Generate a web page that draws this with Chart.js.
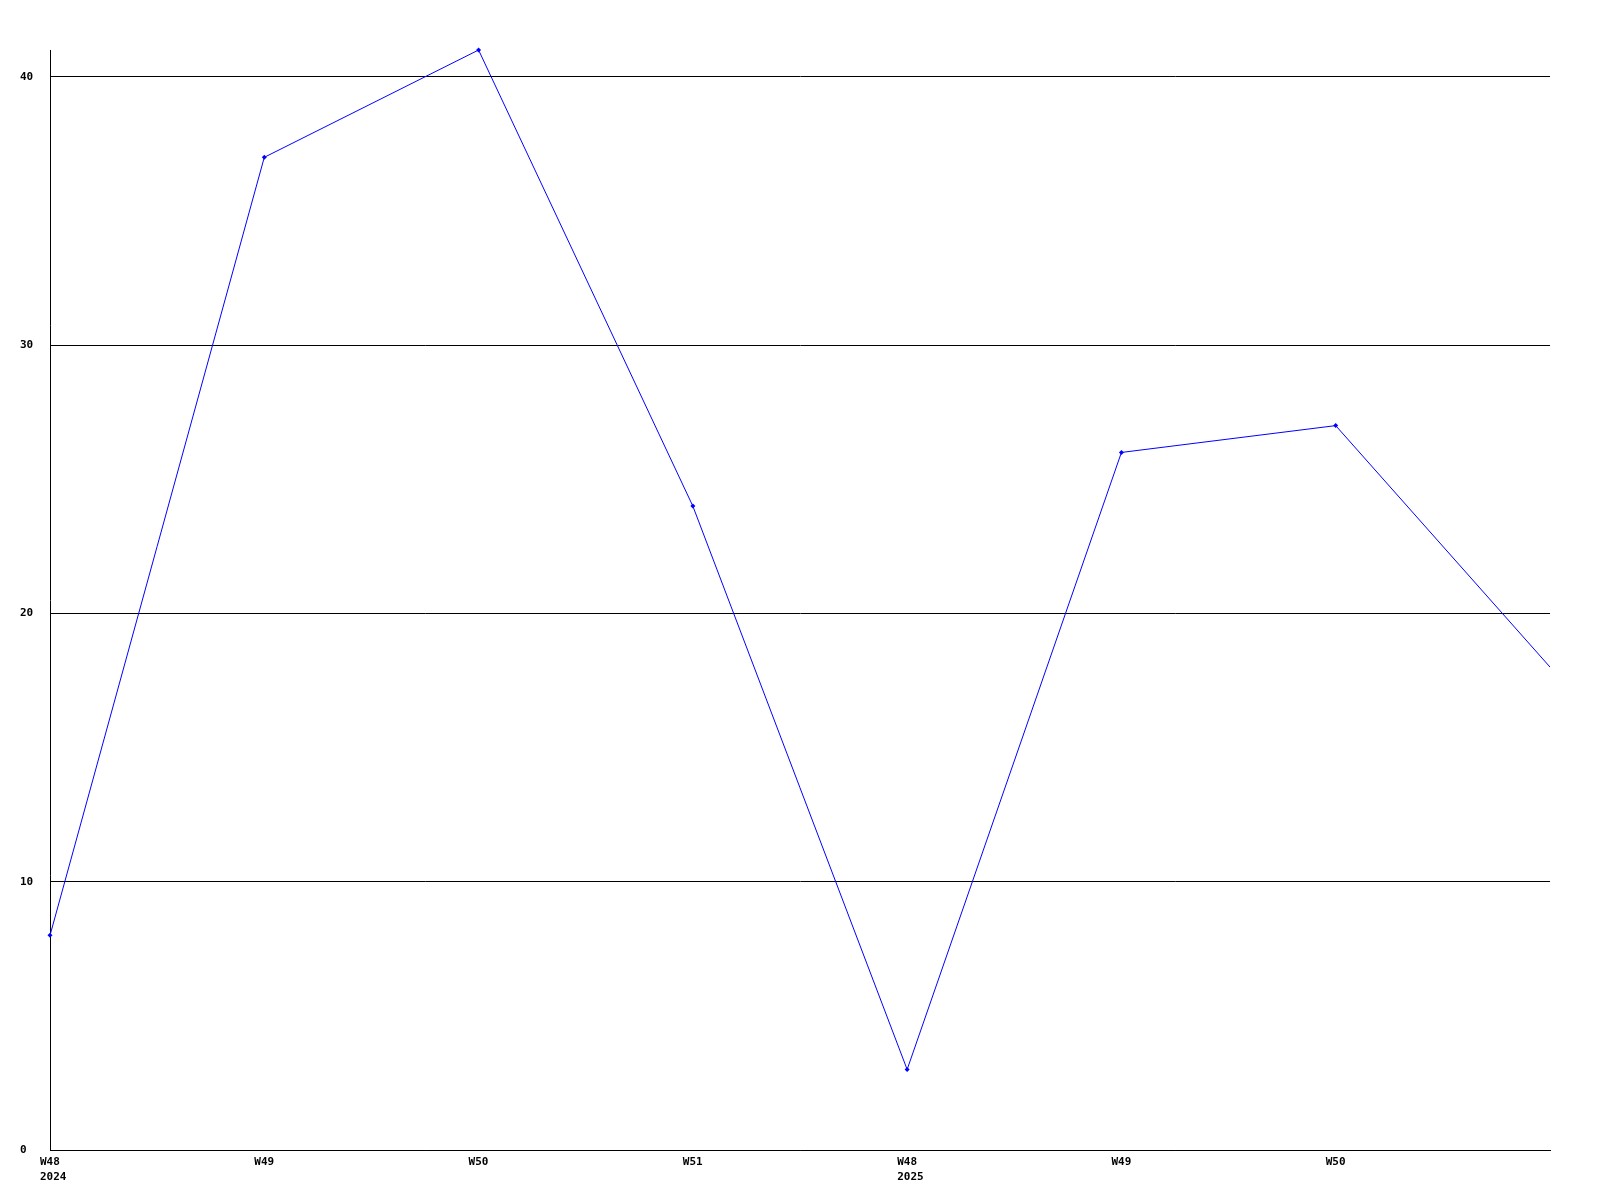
<!DOCTYPE html>
<html>
<head>
<meta charset="utf-8">
<script src="https://cdn.jsdelivr.net/npm/chart.js@4/dist/chart.umd.min.js"></script>
<style>
  html, body { margin: 0; padding: 0; background: #fff; }
  #wrap { width: 1600px; height: 1200px; }
</style>
</head>
<body>
<div id="wrap"><canvas id="c" width="1600" height="1200"></canvas></div>
<script>
const weeks = ['W48', 'W49', 'W50', 'W51', 'W48', 'W49', 'W50', 'W51'];
const years = ['2024', '', '', '', '2025', '', '', ''];
const values = [8, 37, 41, 24, 3, 26, 27, 18];
const yTicks = [0, 10, 20, 30, 40];
const yMax = 41;

const FONT = { family: '"DejaVu Sans Mono", monospace', size: 11, weight: 'bold', lineHeight: 1.35 };

new Chart(document.getElementById('c'), {
  type: 'line',
  data: {
    labels: weeks.map((w, i) => years[i] ? [w, years[i]] : [w]),
    datasets: [{
      data: values,
      borderColor: '#0000ff',
      backgroundColor: '#0000ff',
      borderWidth: 1,
      pointStyle: 'rectRot',
      pointRadius: values.map((v, i) => i === values.length - 1 ? 0 : 2.5),
      pointHoverRadius: 0,
      pointBorderWidth: 0,
      tension: 0,
      fill: false,
      clip: { left: 5, top: 5, right: 0, bottom: 5 }
    }]
  },
  options: {
    responsive: false,
    animation: false,
    events: [],
    layout: { padding: { top: 50, right: 50, left: 20, bottom: 0 } },
    plugins: { legend: { display: false }, tooltip: { enabled: false }, title: { display: false } },
    scales: {
      x: {
        type: 'category',
        offset: false,
        grid: { display: false, drawTicks: false },
        border: { display: true, color: '#000', width: 1 },
        ticks: {
          autoSkip: false,
          maxRotation: 0,
          minRotation: 0,
          align: 'start',
          labelOffset: -10,
          padding: 5,
          color: '#000',
          font: FONT,
          callback: function (val, idx) {
            return idx === weeks.length - 1 ? '' : this.chart.data.labels[idx];
          }
        },
        afterFit: s => { s.height = 50; }
      },
      y: {
        min: 0,
        max: yMax,
        grid: { color: '#000', lineWidth: 1, drawTicks: false },
        border: { display: true, color: '#000', width: 1 },
        afterBuildTicks: s => { s.ticks = yTicks.map(v => ({ value: v })); },
        ticks: {
          crossAlign: 'far',
          padding: 0,
          color: '#000',
          font: FONT
        },
        afterFit: s => { s.width = 30; }
      }
    }
  }
});
</script>
</body>
</html>
